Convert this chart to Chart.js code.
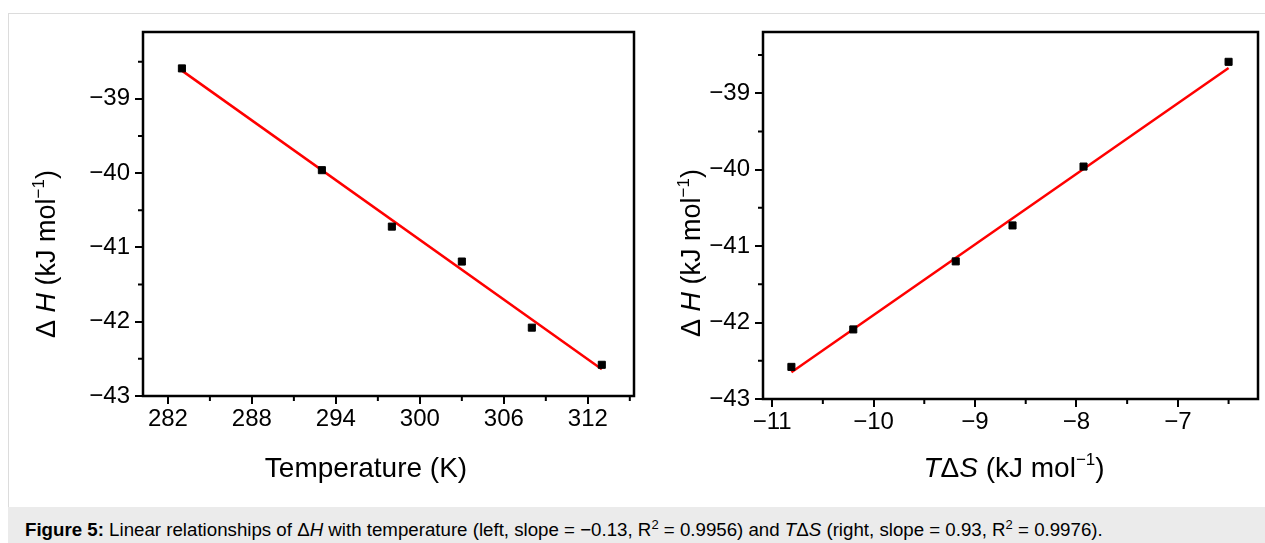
<!DOCTYPE html>
<html>
<head>
<meta charset="utf-8">
<script src="https://cdn.jsdelivr.net/npm/chart.js@4.4.1/dist/chart.umd.min.js"></script>
<style>
  body { margin: 0; width: 1265px; height: 543px; overflow: hidden; background: #fff; position: relative;
         font-family: "Liberation Sans", Arial, sans-serif; }
  #frame { position: absolute; left: 8px; top: 13px; width: 1257px; height: 494px; box-sizing: border-box;
           border-top: 1px solid #dcdcdc; border-left: 1px solid #dcdcdc; }
  #caption { position: absolute; left: 8px; top: 507px; right: 0; height: 36px; background: #ebebeb;
             box-sizing: border-box; padding: 13px 0 0 17px; font-size: 18.7px; line-height: 20px; color: #000;
             white-space: nowrap; }
  #caption sup { font-size: 13px; line-height: 0; }
  canvas { position: absolute; top: 0; }
</style>
</head>
<body>
<div id="frame"></div>
<canvas id="chartLeft" width="640" height="505" style="left:0"></canvas>
<canvas id="chartRight" width="625" height="505" style="left:640px"></canvas>
<div id="caption"><b>Figure 5:</b> Linear relationships of Δ<i>H</i> with temperature (left, slope = −0.13, R<sup>2</sup> = 0.9956) and <i>T</i>Δ<i>S</i> (right, slope = 0.93, R<sup>2</sup> = 0.9976).</div>

<script>
// --- datos ---
const temperatura = [283, 293, 298, 303, 308, 313];
const dH = [-38.59, -39.96, -40.72, -41.19, -42.08, -42.58];
const tdS = [-10.81, -10.20, -9.19, -8.63, -7.93, -6.50];
const dH2 = [-42.58, -42.09, -41.20, -40.73, -39.96, -38.59];

// rectas de ajuste (extremos)
const ajusteTempX = [283, 313];
const ajusteTempY = [-38.62, -42.64];
const ajusteTdsX = [-10.81, -6.50];
const ajusteTdsY = [-42.65, -38.67];

// marcas de los ejes
const ticksTemp = [282, 288, 294, 300, 306, 312];
const menoresTemp = [285, 291, 297, 303, 309, 315];
const ticksTds = [-11, -10, -9, -8, -7];
const menoresTds = [-10.5, -9.5, -8.5, -7.5, -6.5];
const ticksH = [-43, -42, -41, -40, -39];
const menoresH = [-42.5, -41.5, -40.5, -39.5, -38.5];

Chart.defaults.font.family = '"Liberation Sans", Arial, sans-serif';
Chart.defaults.color = '#000';

const FAM = '"Liberation Sans", Arial, sans-serif';
const menos = v => (v < 0 ? '\u2212' + Math.abs(v) : '' + v);
const puntos = (xs, ys) => xs.map((x, i) => ({ x: x, y: ys[i] }));

// dibuja texto con partes en cursiva / superindice
function dibujarTexto(ctx, partes, cx, cy, vertical) {
  ctx.save();
  ctx.translate(cx, cy);
  if (vertical) ctx.rotate(-Math.PI / 2);
  let total = 0;
  partes.forEach(p => { ctx.font = p.font; p.w = ctx.measureText(p.t).width; total += p.w; });
  let x = -total / 2;
  ctx.fillStyle = '#000';
  ctx.textAlign = 'left';
  ctx.textBaseline = 'alphabetic';
  partes.forEach(p => { ctx.font = p.font; ctx.fillText(p.t, x, p.dy || 0); x += p.w; });
  ctx.restore();
}

const marco = {
  id: 'marco',
  afterDraw(chart, args, o) {
    const { ctx, chartArea: a } = chart;
    const sx = chart.scales.x, sy = chart.scales.y;
    ctx.save();
    ctx.strokeStyle = '#000';
    ctx.lineWidth = 2;
    ctx.beginPath();
    o.menoresX.forEach(v => { const px = sx.getPixelForValue(v); ctx.moveTo(px, a.bottom); ctx.lineTo(px, a.bottom + 5); });
    o.menoresY.forEach(v => { const py = sy.getPixelForValue(v); ctx.moveTo(a.left, py); ctx.lineTo(a.left - 5, py); });
    ctx.stroke();
    ctx.lineWidth = 2.5;
    ctx.strokeRect(a.left, a.top, a.right - a.left, a.bottom - a.top);
    ctx.restore();
    dibujarTexto(ctx, o.tituloX, o.posX[0], o.posX[1], false);
    dibujarTexto(ctx, o.tituloY, o.posY[0], o.posY[1], true);
  }
};

const tituloH = [
  { t: 'Δ ', font: '27px ' + FAM },
  { t: 'H', font: 'italic 27px ' + FAM },
  { t: ' (kJ mol', font: '27px ' + FAM },
  { t: '\u22121', font: '17px ' + FAM, dy: -11 },
  { t: ')', font: '27px ' + FAM }
];

function crearGrafica(id, cfg) {
  new Chart(document.getElementById(id), {
    type: 'scatter',
    data: {
      datasets: [
        {
          data: puntos(cfg.xs, cfg.ys),
          pointStyle: 'rect',
          pointRadius: 5,
          pointBorderWidth: 1,
          backgroundColor: '#000',
          borderColor: '#000'
        },
        {
          data: puntos(cfg.fitX, cfg.fitY),
          showLine: true,
          pointRadius: 0,
          borderColor: '#ff0000',
          borderWidth: 2.5
        }
      ]
    },
    options: {
      responsive: false,
      animation: false,
      layout: { padding: { left: 0, top: 32, right: cfg.padRight, bottom: 0 } },
      plugins: {
        legend: { display: false },
        tooltip: { enabled: false },
        marco: cfg.marco
      },
      scales: {
        x: {
          type: 'linear',
          min: cfg.xMin,
          max: cfg.xMax,
          afterBuildTicks: s => { s.ticks = cfg.ticksX.map(v => ({ value: v })); },
          afterFit: s => { s.height = cfg.altoX; },
          grid: { display: true, drawOnChartArea: false, drawTicks: true, tickLength: 8, lineWidth: 2, color: '#000' },
          border: { display: false },
          ticks: { font: { size: 24 }, padding: 1, maxRotation: 0, callback: v => menos(v) }
        },
        y: {
          type: 'linear',
          min: -43,
          max: cfg.yMax,
          afterBuildTicks: s => { s.ticks = ticksH.map(v => ({ value: v })); },
          afterFit: s => { s.width = cfg.anchoY; },
          grid: { display: true, drawOnChartArea: false, drawTicks: true, tickLength: 8, lineWidth: 2, color: '#000' },
          border: { display: false },
          ticks: { font: { size: 24 }, padding: 5, callback: v => menos(v) }
        }
      }
    },
    plugins: [marco]
  });
}

crearGrafica('chartLeft', {
  xs: temperatura, ys: dH, fitX: ajusteTempX, fitY: ajusteTempY,
  xMin: 280.22, xMax: 315.3, yMax: -38.1, ticksX: ticksTemp,
  anchoY: 143, altoX: 109, padRight: 6,
  marco: {
    menoresX: menoresTemp, menoresY: menoresH,
    tituloX: [{ t: 'Temperature (K)', font: '28px ' + FAM }],
    posX: [366, 477],
    tituloY: tituloH.map(p => Object.assign({}, p)),
    posY: [55, 254]
  }
});

crearGrafica('chartRight', {
  xs: tdS, ys: dH2, fitX: ajusteTdsX, fitY: ajusteTdsY,
  xMin: -11.09, xMax: -6.21, yMax: -38.2, ticksX: ticksTds,
  anchoY: 123, altoX: 106, padRight: 7,
  marco: {
    menoresX: menoresTds, menoresY: menoresH,
    tituloX: [
      { t: 'T', font: 'italic 28px ' + FAM },
      { t: 'Δ', font: '28px ' + FAM },
      { t: 'S', font: 'italic 28px ' + FAM },
      { t: ' (kJ mol', font: '28px ' + FAM },
      { t: '\u22121', font: '17px ' + FAM, dy: -12 },
      { t: ')', font: '28px ' + FAM }
    ],
    posX: [374, 477],
    tituloY: tituloH.map(p => Object.assign({}, p)),
    posY: [60, 253]
  }
});
</script>
</body>
</html>
